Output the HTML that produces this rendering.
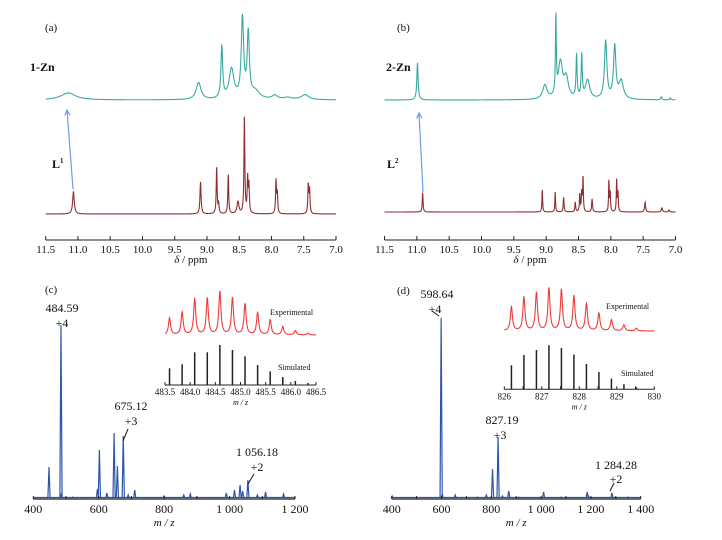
<!DOCTYPE html>
<html><head><meta charset="utf-8">
<style>
html,body{margin:0;padding:0;background:#fff;}
svg{display:block;font-family:"Liberation Serif",serif;}
</style></head>
<body>
<svg id="fig" width="722" height="540" viewBox="0 0 722 540" xmlns="http://www.w3.org/2000/svg">
<g id="layer"></g>
</svg>
<script>
// ---- NMR data: [ppm, height(px), halfwidth(ppm)] ----
const nmr1Zn = [[11.15,7,0.14],[9.13,17,0.045],[8.77,52,0.016],[8.62,30,0.045],[8.45,80,0.022],[8.36,64,0.02],[8.25,8,0.08],[7.95,4,0.05],[7.75,2,0.08],[7.48,5,0.07]];
const nmrL1 = [[11.07,22,0.015],[9.10,32,0.01],[8.85,47,0.008],[8.82,10,0.008],[8.67,40,0.008],[8.52,12,0.018],[8.42,98,0.008],[8.37,35,0.008],[8.35,28,0.008],[7.93,33,0.008],[7.91,20,0.008],[7.43,29,0.008],[7.41,24,0.008]];
const nmr2Zn = [[10.99,37,0.012],[9.02,14,0.04],[8.85,78,0.008],[8.78,36,0.04],[8.69,20,0.04],[8.53,43,0.01],[8.45,43,0.01],[8.36,19,0.04],[8.08,58,0.022],[7.94,52,0.022],[7.84,18,0.04],[7.22,3,0.01],[7.08,2,0.01]];
const nmrL2 = [[10.91,20,0.007],[9.06,23,0.006],[8.86,20,0.006],[8.73,15,0.007],[8.55,10,0.007],[8.48,18,0.007],[8.45,20,0.007],[8.43,35,0.006],[8.29,13,0.008],[8.03,32,0.006],[8.01,20,0.006],[7.91,33,0.006],[7.89,20,0.006],[7.47,10,0.009],[7.21,4,0.011],[7.10,2,0.009]];
const ppmTicks = ["11.5","11.0","10.5","10.0","9.5","9.0","8.5","8.0","7.5","7.0"];
// ---- MS data: [m/z, height(px)] ----
const msC = [[448,32],[484.6,174],[486,5],[520,2],[596,10],[602,49],[625,6],[647,66],[657,33],[675,63],[690,4],[710,9],[800,3],[860,4],[880,5],[990,6],[1015,9],[1032,14],[1040,8],[1056,19],[1085,4],[1110,7],[1165,5]];
const msD = [[402,3],[598.6,181],[603,5],[655,4],[745,2],[780,4],[805,30],[827.2,62],[845,3],[870,8],[910,2],[1010,7],[1080,2],[1185,7],[1190,3],[1284.3,6],[1350,2]];
const msCTicks = ["400","600","800","1 000","1 200"];
const msDTicks = ["400","600","800","1 000","1 200","1 400"];
// ---- inset isotope patterns ----
const expC = [16.7,22.7,35.7,36.7,43.3,37.3,31,22.3,15,8.3,4.3,1.7];
const simC = [16.7,20.7,32.7,32.7,40,35,28.7,20,13.7,8,4,2];
const insetCTicks = ["483.5","484.0","484.5","485.0","485.5","486.0","486.5"];
const expD = [23.7,33.7,38.3,42.7,41,35,27,17.7,11,6,2.7];
const simD = [24,34.3,39.3,44,41.3,34.7,25.3,17.3,10.7,5,2];
const insetDTicks = ["826","827","828","829","830"];

const NS="http://www.w3.org/2000/svg";
const L=document.getElementById('layer');
function mk(tag,attrs,parent){const e=document.createElementNS(NS,tag);for(const k in attrs)e.setAttribute(k,attrs[k]);(parent||L).appendChild(e);return e;}
function txt(s,x,y,size,opts,name){const t=mk('text',Object.assign({x:x,y:y,'font-size':size,fill:'#111'},opts||{}));t.textContent=s;


return t;}

function nmrPanel(x0,x1,axisY,peaksTop,baseTop,colTop,peaksBot,baseBot,colBot,prefix){
  const sx=p=>x0+(11.5-p)*(x1-x0)/4.5;
  function trace(peaks,base,col,name){
    let d='';
    for(let i=0;i<=1200;i++){const p=11.5-4.5*i/1200;let y=0;
      for(const k of peaks){const u=(p-k[0])/k[2];y+=k[1]/(1+u*u);}
      d+=(i?'L':'M')+sx(p).toFixed(2)+','+(base-y).toFixed(2);}
    const e=mk('path',{d:d,fill:'none',stroke:col,'stroke-width':1.1});
    
    
  }
  trace(peaksTop,baseTop,colTop,prefix+'-complex-spectrum');
  trace(peaksBot,baseBot,colBot,prefix+'-ligand-spectrum');
  const ax=mk('line',{x1:x0,y1:axisY,x2:x1,y2:axisY,stroke:'#222','stroke-width':1});
  
  
  ppmTicks.forEach((s,i)=>{const x=sx(parseFloat(s));
    const t=mk('line',{x1:x,y1:axisY,x2:x,y2:axisY-4,stroke:'#222','stroke-width':1});
    
    
    txt(s,x,253,11,{'text-anchor':'middle'},prefix+'-tick-label');});
  const tt=txt('',(x0+x1)/2,263,11,{'text-anchor':'middle'},prefix+'-x-axis-title');
  const a=mk('tspan',{'font-style':'italic'},tt);a.textContent='δ';const b=mk('tspan',{},tt);b.textContent=' / ppm';
}
nmrPanel(45.7,336,240,nmr1Zn,100,'#3aa9a1',nmrL1,214,'#8e2e30','panel-a');
nmrPanel(384.5,675.5,240,nmr2Zn,100,'#3aa9a1',nmrL2,212,'#8e2e30','panel-b');

function arrow(x1,y1,x2,y2,name){
  const g=mk('g',{stroke:'#6a9fe0','stroke-width':1.2,fill:'none'});
  
  
  mk('line',{x1:x1,y1:y1,x2:x2,y2:y2},g);
  const a=Math.atan2(y2-y1,x2-x1),s=6;
  mk('path',{d:`M${x2-s*Math.cos(a-0.45)},${y2-s*Math.sin(a-0.45)}L${x2},${y2}L${x2-s*Math.cos(a+0.45)},${y2-s*Math.sin(a+0.45)}`},g);
}
arrow(73,189,67,110,'shift-arrow-a');
arrow(423,192,419,113,'shift-arrow-b');

txt('(a)',45,31,11,{},'panel-a-label');
txt('1-Zn',30,71,12,{'font-weight':'bold'},'label-1-zn');
const l1=txt('L',52,168,12,{'font-weight':'bold'},'label-l1');const s1=mk('tspan',{'font-size':7,dy:-5},l1);s1.textContent='1';
txt('(b)',397,31,11,{},'panel-b-label');
txt('2-Zn',386,71,12,{'font-weight':'bold'},'label-2-zn');
const l2=txt('L',387,168,12,{'font-weight':'bold'},'label-l2');const s2=mk('tspan',{'font-size':7,dy:-5},l2);s2.textContent='2';

function msPanel(x0,x1,m0,m1,axisY,peaks,ticks,prefix){
  const sx=m=>x0+(m-m0)*(x1-x0)/(m1-m0);
  let d=`M${x0},${axisY-1.5}L${x1},${axisY-1.5}`;
  for(const p of peaks){const x=sx(p[0]);d+=`M${x-1.1},${axisY-1}L${x},${axisY-p[1]}L${x+1.1},${axisY-1}`;}
  const e=mk('path',{d:d,fill:'none',stroke:'#2f55aa','stroke-width':1.2});
  
  
  const ax=mk('line',{x1:x0,y1:axisY,x2:x1,y2:axisY,stroke:'#222','stroke-width':1.2});
  
  
  for(let m=m0;m<=m1;m+=100){const t=mk('line',{x1:sx(m),y1:axisY,x2:sx(m),y2:axisY-3,stroke:'#222'});
    
    }
  ticks.forEach(s=>txt(s,sx(parseFloat(s.replace(' ',''))),513,12,{'text-anchor':'middle'},prefix+'-tick-label'));
  txt('m / z',(x0+x1)/2,526,11,{'text-anchor':'middle','font-style':'italic'},prefix+'-x-axis-title');
}
msPanel(33.3,295,400,1200,499,msC,msCTicks,'panel-c');
msPanel(391.7,640.7,400,1400,499,msD,msDTicks,'panel-d');

function inset(x0,x1,v0,v1,first,step,exp,sim,expBase,axisY,ticks,minor,prefix){
  const sx=v=>x0+(v-v0)*(x1-x0)/(v1-v0);
  let d='';const w=step*0.1;
  for(let i=0;i<=500;i++){const v=v0+(v1-v0)*i/500;let y=0;
    exp.forEach((h,k)=>{const u=(v-(first+k*step))/w;y+=h/(1+u*u);});
    d+=(i?'L':'M')+sx(v).toFixed(2)+','+(expBase-y).toFixed(2);}
  const e=mk('path',{d:d,fill:'none',stroke:'#f03a3a','stroke-width':1.1});
  
  
  const g=mk('g',{stroke:'#222','stroke-width':1.5});
  
  
  sim.forEach((h,k)=>{const x=sx(first+k*step);mk('line',{x1:x,y1:axisY,x2:x,y2:axisY-h},g);});
  const ax=mk('line',{x1:x0,y1:axisY,x2:x1,y2:axisY,stroke:'#222','stroke-width':1});
  
  
  for(let v=v0;v<=v1+1e-6;v+=minor){const t=mk('line',{x1:sx(v),y1:axisY,x2:sx(v),y2:axisY-3,stroke:'#222'});
    
    }
  ticks.forEach(s=>txt(s,sx(parseFloat(s)),axisY+10,9,{'text-anchor':'middle'},prefix+'-inset-tick-label'));
  txt('m / z',(x0+x1)/2,axisY+20,8,{'text-anchor':'middle','font-style':'italic'},prefix+'-inset-axis-title');
}
inset(165,316,483.5,486.5,483.59,0.25,expC,simC,335,385,insetCTicks,0.5,'panel-c');
inset(504.3,654.3,826,830,826.19,1/3,expD,simD,331,389.3,insetDTicks,0.5,'panel-d');
txt('Experimental',270,315,8,{},'experimental-label-c');
txt('Simulated',278,370,8,{},'simulated-label-c');
txt('Experimental',606,309,8,{},'experimental-label-d');
txt('Simulated',621,376,8,{},'simulated-label-d');

function tick(x1,y1,x2,y2,name){const l=mk('line',{x1:x1,y1:y1,x2:x2,y2:y2,stroke:'#111','stroke-width':1});
  
  }
txt('(c)',45,293,11,{},'panel-c-label');
txt('484.59',62,312,12,{'text-anchor':'middle'},'peak-label-484');
txt('+4',62,327,12,{'text-anchor':'middle'},'charge-label-484');
txt('675.12',131,410,12,{'text-anchor':'middle'},'peak-label-675');
txt('+3',131,425,12,{'text-anchor':'middle'},'charge-label-675');
tick(128,429,123,441,'leader-675');
txt('1 056.18',257,456,12,{'text-anchor':'middle'},'peak-label-1056');
txt('+2',257,471,12,{'text-anchor':'middle'},'charge-label-1056');
tick(254,474,248,484,'leader-1056');
txt('(d)',397,294,11,{},'panel-d-label');
txt('598.64',437,298,12,{'text-anchor':'middle'},'peak-label-598');
txt('+4',435,313,12,{'text-anchor':'middle'},'charge-label-598');
tick(432,311,439,316,'leader-598');
txt('827.19',502,424,12,{'text-anchor':'middle'},'peak-label-827');
txt('+3',500,439,12,{'text-anchor':'middle'},'charge-label-827');
txt('1 284.28',616,469,12,{'text-anchor':'middle'},'peak-label-1284');
txt('+2',616,483,12,{'text-anchor':'middle'},'charge-label-1284');
tick(614,483,610,491,'leader-1284');
</script>
</body></html>
